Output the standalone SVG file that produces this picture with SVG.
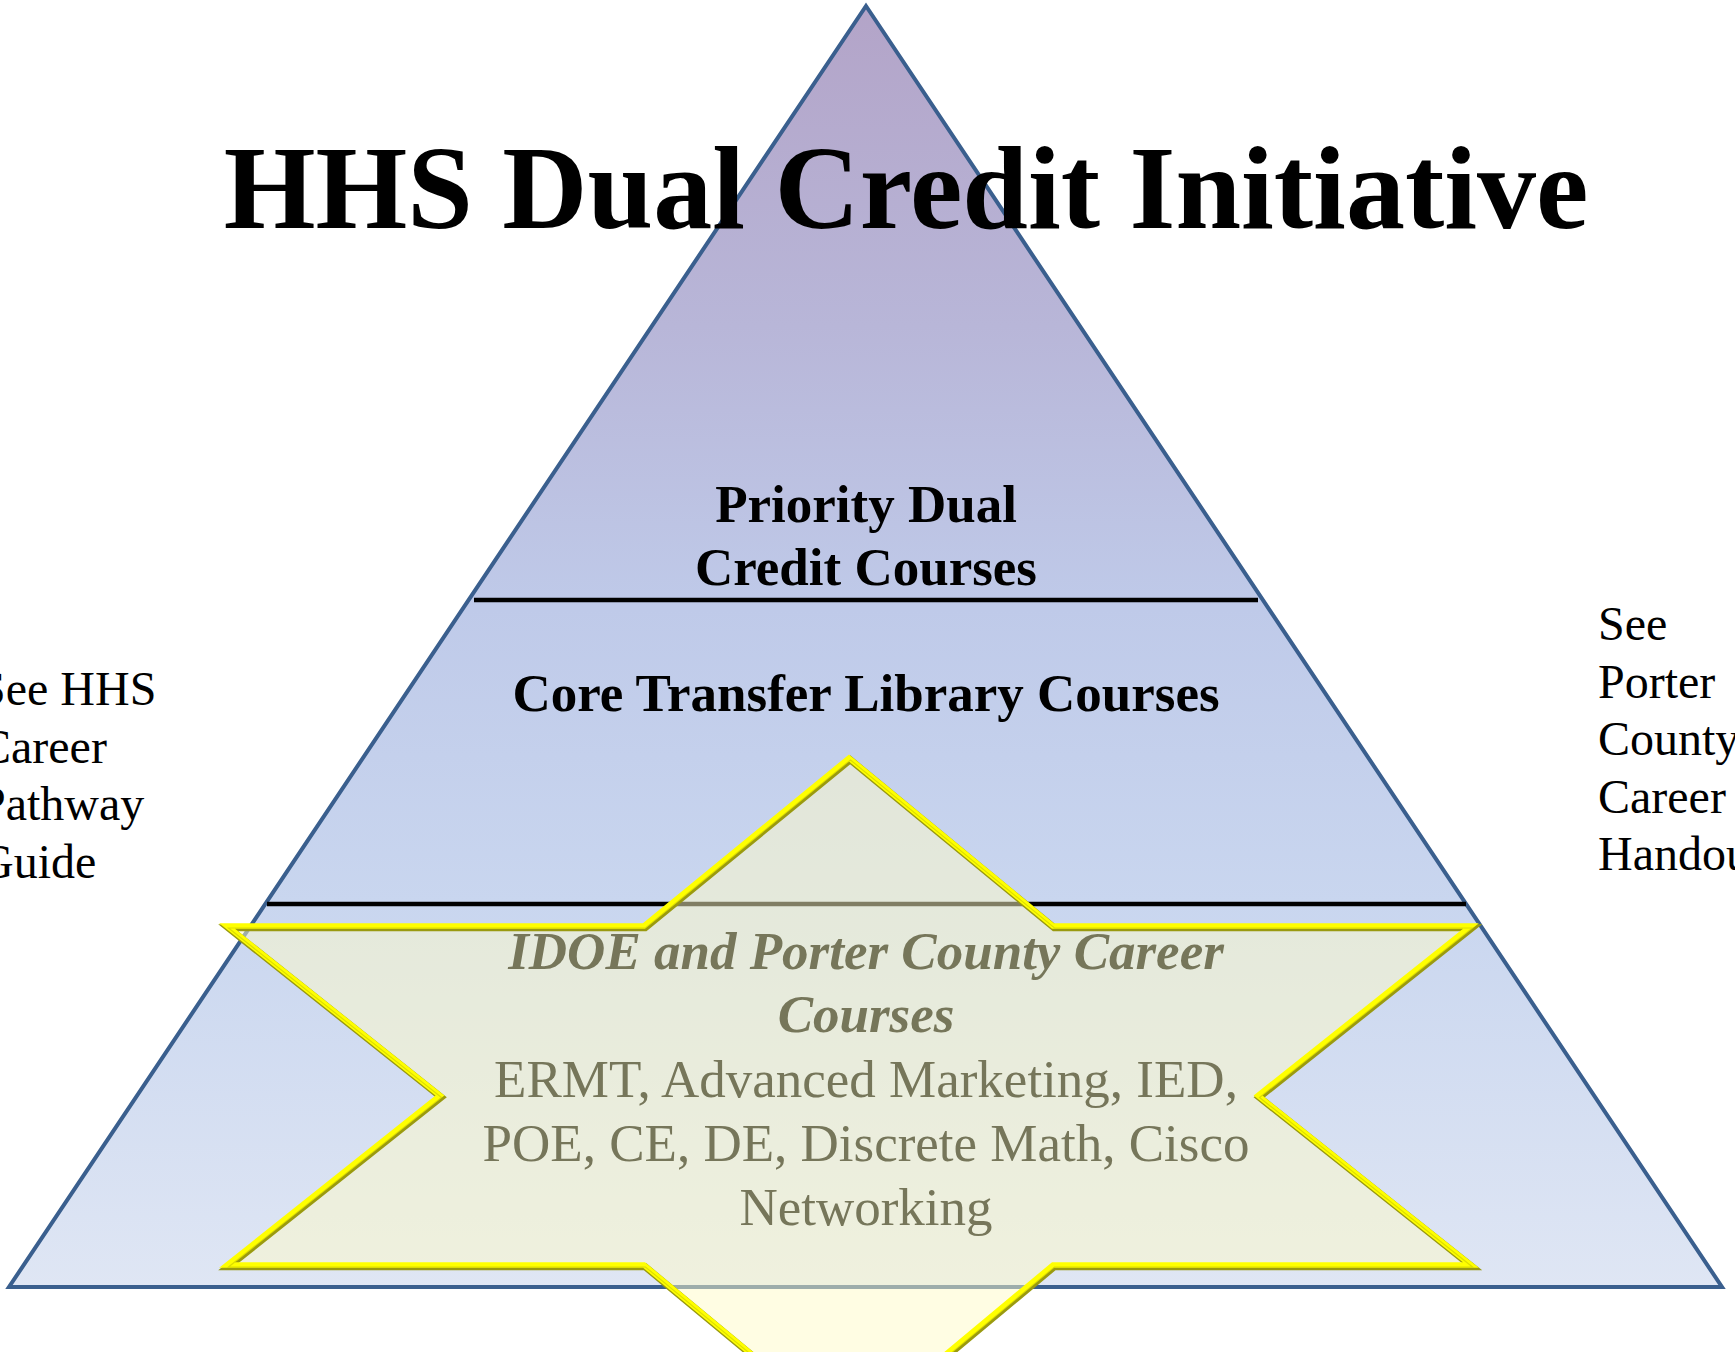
<svg xmlns="http://www.w3.org/2000/svg" xmlns:xlink="http://www.w3.org/1999/xlink" width="1735" height="1352" viewBox="0 0 1735 1352">
<style>
.serif{font-family:"Liberation Serif","Times New Roman",serif;}
.bold{font-weight:bold;}
.mid{text-anchor:middle;}
.lbl{font-size:53px;fill:#000;}
.star-t{font-size:53px;fill:#76765a;}
.side{font-size:48px;fill:#000;}
.div{stroke:#000;stroke-width:4.5;}
</style>
<defs>
<linearGradient id="triGrad" x1="0" y1="6" x2="0" y2="1287" gradientUnits="userSpaceOnUse">
<stop offset="0" stop-color="#b3a4c8"/>
<stop offset="0.25" stop-color="#b8b6d8"/>
<stop offset="0.47" stop-color="#bfcae9"/>
<stop offset="0.7" stop-color="#c9d6ef"/>
<stop offset="1" stop-color="#dfe6f4"/>
</linearGradient>
<path id="starShape" d="M849,758 L1053,926 L1471,926 L1258,1095.5 L1471,1265 L1053,1265 L849,1435 L644,1265 L227,1265 L440,1095.5 L227,926 L644,926 Z"/>
</defs>
<rect x="0" y="0" width="1735" height="1352" fill="#ffffff"/>
<g id="pyramid">
<polygon points="866,6 1722,1287 9,1287" fill="url(#triGrad)" stroke="#3a5f8e" stroke-width="4" stroke-linejoin="miter"/>
</g>
<g id="connectors">
<line class="div" x1="474" y1="600" x2="1258" y2="600"/>
<line class="div" x1="267" y1="904" x2="1466" y2="904"/>
</g>
<g id="star">
<use xlink:href="#starShape" fill="#fffcc8" fill-opacity="0.5" stroke="none"/>
<use xlink:href="#starShape" fill="none" stroke="#9a9a10" stroke-width="7" stroke-linejoin="miter" stroke-miterlimit="10" transform="translate(1.2,1.8)"/>
<use xlink:href="#starShape" fill="none" stroke="#ffff00" stroke-width="5.5" stroke-linejoin="miter" stroke-miterlimit="10"/>
<use xlink:href="#starShape" fill="none" stroke="#c8c800" stroke-width="1.2" stroke-linejoin="miter" stroke-miterlimit="10" transform="translate(1.5,2)" stroke-opacity="0.6"/>
</g>
<g id="title">
<text class="serif bold mid" x="906" y="228" font-size="118" fill="#000">HHS Dual Credit Initiative</text>
</g>
<g id="node-priority">
<text class="serif bold mid lbl" x="866" y="522">Priority Dual</text>
<text class="serif bold mid lbl" x="866" y="585">Credit Courses</text>
</g>
<g id="node-core">
<text class="serif bold mid lbl" x="866" y="711">Core Transfer Library Courses</text>
</g>
<g id="node-career">
<text class="serif bold mid star-t" x="866" y="969" font-style="italic">IDOE and Porter County Career</text>
<text class="serif bold mid star-t" x="866" y="1032" font-style="italic">Courses</text>
<text class="serif mid star-t" x="866" y="1097">ERMT, Advanced Marketing, IED,</text>
<text class="serif mid star-t" x="866" y="1161">POE, CE, DE, Discrete Math, Cisco</text>
<text class="serif mid star-t" x="866" y="1225">Networking</text>
</g>
<g id="note-left">
<text class="serif side" x="-21" y="705">See HHS</text>
<text class="serif side" x="-21" y="762.5">Career</text>
<text class="serif side" x="-21" y="820">Pathway</text>
<text class="serif side" x="-21" y="877.5">Guide</text>
</g>
<g id="note-right">
<text class="serif side" x="1598" y="640">See</text>
<text class="serif side" x="1598" y="697.5">Porter</text>
<text class="serif side" x="1598" y="755">County</text>
<text class="serif side" x="1598" y="812.5">Career</text>
<text class="serif side" x="1598" y="870">Handout</text>
</g>
</svg>
